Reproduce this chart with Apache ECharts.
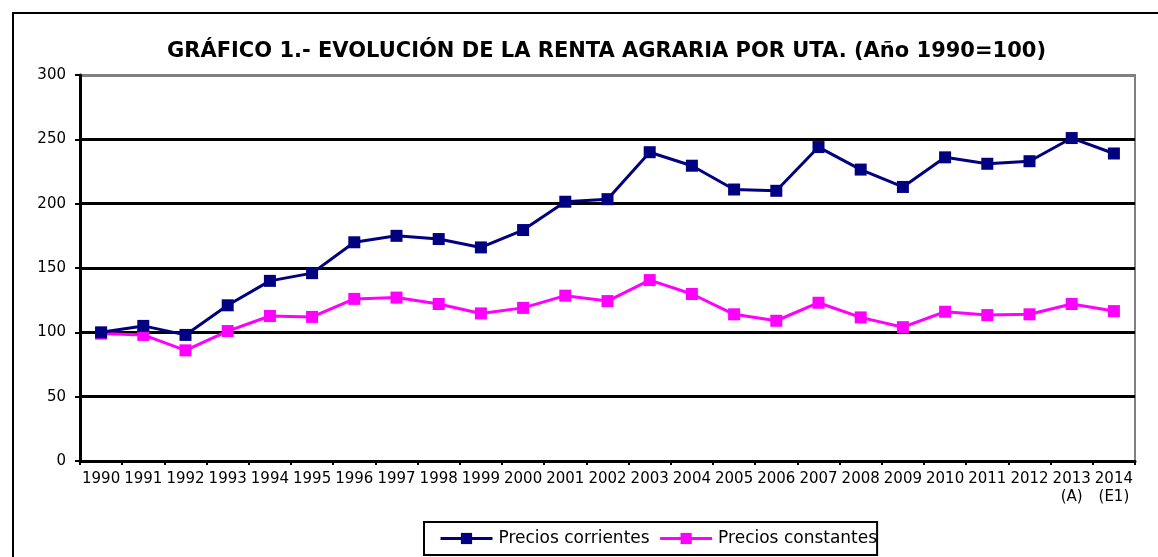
<!DOCTYPE html>
<html><head><meta charset="utf-8">
<script src="https://cdn.jsdelivr.net/npm/echarts@6/dist/echarts.min.js"></script>
<style>html,body{margin:0;padding:0;background:#fff}#c{width:1158px;height:557px}</style>
</head><body><div id="c"></div>
<script>
const categories = ['1990','1991','1992','1993','1994','1995','1996','1997','1998','1999','2000','2001','2002','2003','2004','2005','2006','2007','2008','2009','2010','2011','2012','2013\n(A)','2014\n(E1)'];
const preciosCorrientes = [100,105,98,121,140,146,170,175,172.5,166,179.5,201.5,203.5,240,229.5,211,210,244,226.5,213,236,231,233,251,239];
const preciosConstantes = [99,98,86,101,112.7,112,126,127,122,114.7,119,128.5,124.3,140.6,129.8,114,109,123,111.6,104,116,113.4,114,122,116.5];
const yTicks = {min:0, max:300, interval:50};

const chart = echarts.init(document.getElementById('c'), null, {renderer:'canvas'});
chart.setOption({
  animation:false,
  backgroundColor:'#fff',
  title:{
    text:'GRÁFICO 1.- EVOLUCIÓN DE LA RENTA AGRARIA POR UTA. (Año 1990=100)',
    left:167, top:41, padding:0,
    textStyle:{fontFamily:'DejaVu Sans', fontWeight:'bold', fontSize:21, color:'#000'}
  },
  graphic:[{type:'rect', shape:{x:13,y:13,width:1300,height:700}, style:{fill:'none', stroke:'#000', lineWidth:2}, silent:true, z:-1}],
  grid:{left:80, right:23, top:75, bottom:96, show:true, borderColor:'#808080', borderWidth:2},
  legend:{
    top:522, left:424,
    borderColor:'#000', borderWidth:2, padding:[8,0,8,15],
    itemWidth:52, itemHeight:14, itemGap:9,
    lineStyle:{width:3},
    textStyle:{fontFamily:'DejaVu Sans', fontSize:17, color:'#000', padding:[0,0,0,1]},
    data:['Precios corrientes','Precios constantes']
  },
  xAxis:{
    type:'category', data:categories, boundaryGap:true,
    axisLine:{lineStyle:{color:'#000', width:3}},
    axisTick:{show:true, inside:false, length:4, lineStyle:{color:'#000', width:2}},
    axisLabel:{interval:0, fontFamily:'DejaVu Sans', fontSize:15, color:'#000', margin:9, lineHeight:18, align:'center'},
    splitLine:{show:false}
  },
  yAxis:{
    type:'value', min:yTicks.min, max:yTicks.max, interval:yTicks.interval,
    axisLine:{show:true, lineStyle:{color:'#000', width:3}},
    axisTick:{show:true, length:5, lineStyle:{color:'#000', width:2}},
    axisLabel:{fontFamily:'DejaVu Sans', fontSize:15, color:'#000', margin:14},
    splitLine:{show:true, lineStyle:{color:['#000','#000','#000','#000','#000','#000','#808080'], width:3}}
  },
  series:[
    {name:'Precios corrientes', type:'line', data:preciosCorrientes, symbol:'rect', symbolSize:12,
     lineStyle:{color:'#000080', width:3}, itemStyle:{color:'#000080'}, z:3},
    {name:'Precios constantes', type:'line', data:preciosConstantes, symbol:'rect', symbolSize:12,
     lineStyle:{color:'#FF00FF', width:3}, itemStyle:{color:'#FF00FF'}, z:2}
  ]
});
</script></body></html>
